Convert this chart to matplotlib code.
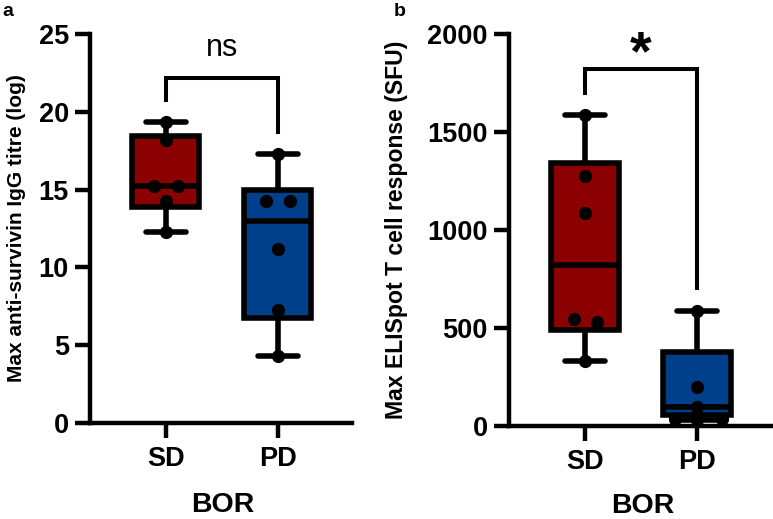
import matplotlib
matplotlib.use("Agg")
import matplotlib.pyplot as plt

plt.rcParams['font.family'] = ['Liberation Sans', 'DejaVu Sans']

categories = ["SD", "PD"]
colors = ["#8B0000", "#00408A"]

# Panel a: Max anti-survivin IgG titre (log)
a_points_sd = [19.35, 18.2, 15.25, 15.25, 14.25, 12.25]
a_points_pd = [17.3, 14.25, 14.25, 11.2, 7.25, 4.3]
a_box_sd = dict(whislo=12.25, q1=13.9, med=15.25, q3=18.45, whishi=19.35)
a_box_pd = dict(whislo=4.3, q1=6.75, med=13.0, q3=14.95, whishi=17.3)
a_yticks = [0, 5, 10, 15, 20, 25]
a_bracket = [20.75, 22.15, 18.7]   # left leg end, bar height, right leg end

# Panel b: Max ELISpot T cell response (SFU)
b_points_sd = [1585, 1275, 1085, 545, 530, 330]
b_points_pd = [586, 200, 95, 35, 32, 35]
b_box_sd = dict(whislo=330, q1=490, med=820, q3=1340, whishi=1585)
b_box_pd = dict(whislo=32, q1=58, med=95, q3=378, whishi=586)
b_yticks = [0, 500, 1000, 1500, 2000]
b_bracket = [1695, 1818, 702]

# horizontal jitter of the dots (in category units)
a_jit_sd = [0, 0, -0.107, 0.107, 0, 0]
a_jit_pd = [0, -0.107, 0.107, 0, 0, 0]
b_jit_sd = [0, 0, 0, -0.095, 0.11, 0]
b_jit_pd = [0, 0, 0, -0.2, 0, 0.22]

W, H = 773, 519
fig = plt.figure(figsize=(W / 100, H / 100), dpi=100)

LW_BOX = 4.0
LW_SPINE = 3.2


def panel(rect, box_sd, box_pd, pts_sd, pts_pd, jit_sd, jit_pd, yticks, ylim,
          xlim, ylabel, ylabel_size, ylabel_x, xlabel_xy, bracket, sig, sig_kw, sig_y):
    ax = fig.add_axes(rect)
    stats = []
    for name, b in zip(categories, [box_sd, box_pd]):
        d = dict(b)
        d['label'] = name
        d['fliers'] = []
        stats.append(d)
    bp = ax.bxp(stats, positions=[1, 2], widths=0.6, capwidths=0.36,
                patch_artist=True, showfliers=False,
                boxprops=dict(linewidth=LW_BOX, edgecolor='black'),
                whiskerprops=dict(linewidth=LW_BOX, color='black', solid_capstyle='butt'),
                capprops=dict(linewidth=LW_BOX, color='black', solid_capstyle='round'),
                medianprops=dict(linewidth=LW_BOX, color='black'))
    for patch, c in zip(bp['boxes'], colors):
        patch.set_facecolor(c)
        patch.set_joinstyle('miter')
    for pos, pts, jit in [(1, pts_sd, jit_sd), (2, pts_pd, jit_pd)]:
        ax.plot([pos + j for j in jit], pts, 'o', color='black', markersize=8.5,
                zorder=5, clip_on=False)
    ax.set_xlim(*xlim)
    ax.set_ylim(*ylim)
    ax.set_yticks(yticks)
    ax.set_xticks([1, 2])
    ax.set_xticklabels(categories)
    for s in ['top', 'right']:
        ax.spines[s].set_visible(False)
    for s in ['left', 'bottom']:
        ax.spines[s].set_linewidth(LW_SPINE)
        ax.spines[s].set_capstyle('projecting')
    ax.tick_params(axis='both', width=LW_SPINE, length=10.8, labelsize=19.5,
                   direction='out')
    ax.tick_params(axis='y', pad=4.5)
    ax.tick_params(axis='x', pad=6)
    for lab in ax.get_xticklabels() + ax.get_yticklabels():
        lab.set_fontweight('bold')
    ax.set_ylabel(ylabel, fontsize=ylabel_size, fontweight='bold')
    ax.yaxis.set_label_coords(ylabel_x, 0.5)
    ax.set_xlabel("BOR", fontsize=20.5, fontweight='bold')
    ax.xaxis.set_label_coords(*xlabel_xy)
    l, top, r = bracket
    ax.plot([1, 1, 2, 2], [l, top, top, r], color='black', lw=2.9,
            clip_on=False, solid_joinstyle='miter')
    ax.text(1.5, sig_y, sig, ha='center', va='bottom', **sig_kw)
    return ax


ax_a = panel([90 / W, 1 - 423 / H, 262 / W, 389 / H],
             a_box_sd, a_box_pd, a_points_sd, a_points_pd, a_jit_sd, a_jit_pd,
             a_yticks, (0, 25), (0.324, 2.663),
             "Max anti-survivin IgG titre (log)", 15.0, -0.245, (0.506, -0.178),
             a_bracket, "ns", dict(fontsize=22), 23.15)

ax_b = panel([509 / W, 1 - 426 / H, 262.7 / W, 392.5 / H],
             b_box_sd, b_box_pd, b_points_sd, b_points_pd, b_jit_sd, b_jit_pd,
             b_yticks, (0, 2000), (0.321, 2.667),
             "Max ELISpot T cell response (SFU)", 16.6, -0.385, (0.511, -0.17),
             b_bracket, "*", dict(fontsize=40, fontweight='bold'), 1755)

fig.text(2 / W, 1 - 3 / H, "a", fontsize=14, fontweight='bold', ha='left', va='top')
fig.text(394 / W, 1 - 3 / H, "b", fontsize=14, fontweight='bold', ha='left', va='top')

fig.savefig("out.png", dpi=100)
